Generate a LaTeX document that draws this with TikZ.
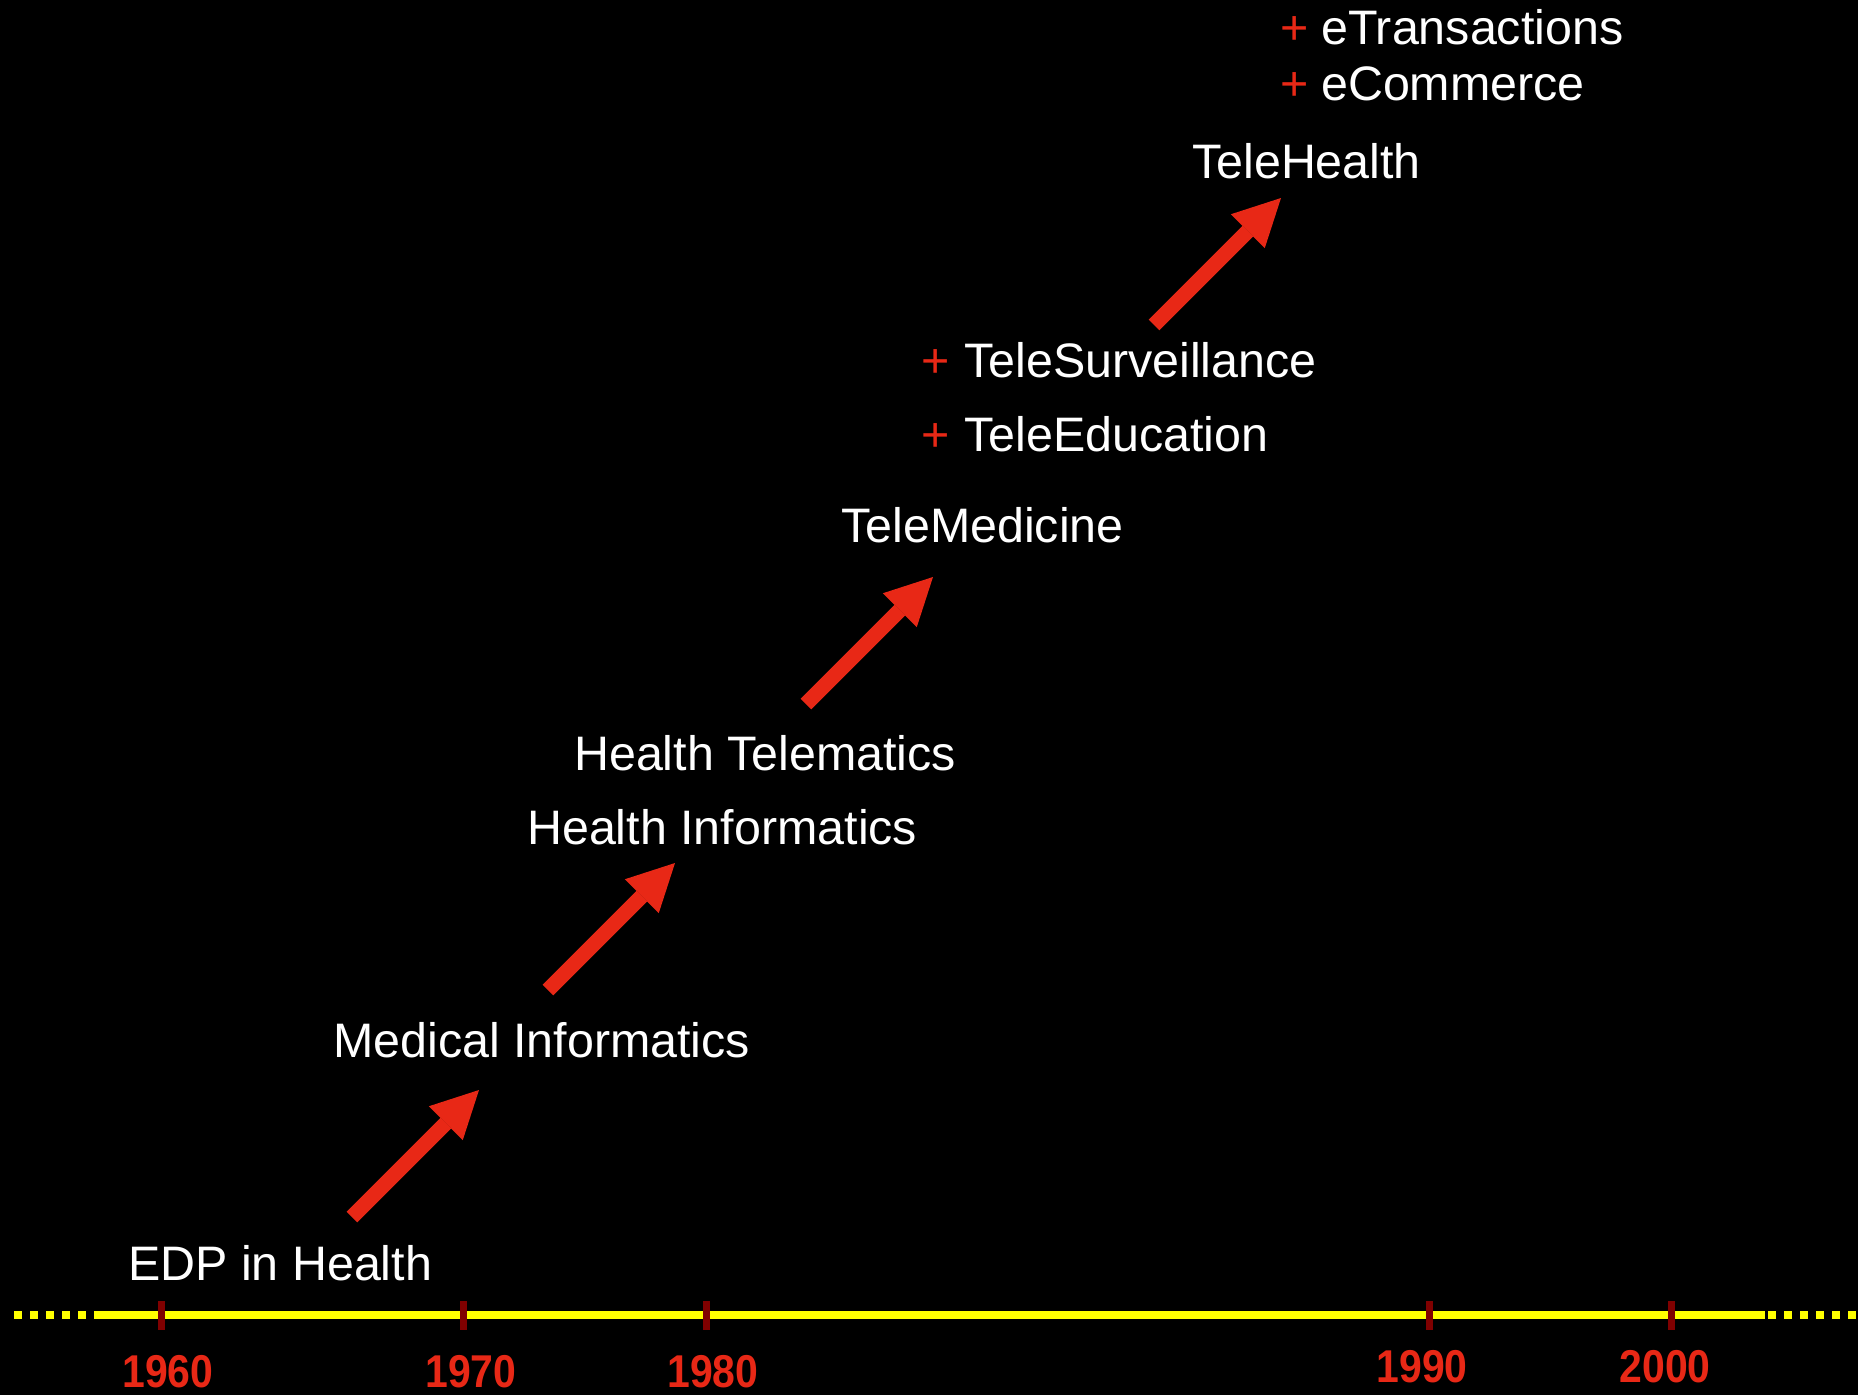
\documentclass[tikz,border=0pt]{standalone}
\usepackage{fontspec}
\setmainfont{Liberation Sans}
\usetikzlibrary{arrows.meta}
\definecolor{arrred}{RGB}{232,40,22}
\definecolor{tickred}{RGB}{128,0,0}
\definecolor{axisyellow}{RGB}{255,255,0}
\newcommand{\yr}[1]{\scalebox{0.89}[1]{#1}}
\begin{document}
\begin{tikzpicture}[x=1pt,y=-1pt,
  lbl/.style={text=white, font=\fontsize{48.4}{58}\selectfont, anchor=base west, inner sep=0pt},
  plussign/.style={text=arrred, font=\fontsize{48.4}{58}\selectfont, anchor=base, inner sep=0pt},
  yearlbl/.style={text=arrred, font=\fontsize{46}{54}\selectfont\bfseries, anchor=center, inner sep=0pt},
  bigarrow/.style={draw=arrred, line width=15pt, -{Triangle[length=47pt,width=48pt,line width=0pt]}},
  axisline/.style={draw=axisyellow, line width=8pt},
  axisdots/.style={draw=axisyellow, line width=8pt, dash pattern=on 8pt off 8pt},
  tickmark/.style={draw=tickred, line width=7pt}]
\fill[black] (0,0) rectangle (1858,1395);
\useasboundingbox (0,0) rectangle (1858,1395);

% axis
\coordinate (dl0) at (14,1315);
\coordinate (axL) at (101,1315);
\coordinate (axR) at (1765,1315);
\coordinate (dr1) at (1858,1315);
\draw[axisdots] (dl0) -- (axL);
\draw[axisline] (axL) -- (axR);
\draw[axisdots] ([xshift=3pt]axR) -- (dr1);

% ticks
\foreach \x/\n in {161/t1,463/t2,706/t3,1429/t4,1671/t5}{
  \coordinate (\n a) at (\x,1301);
  \coordinate (\n b) at (\x,1330);
  \draw[tickmark] (\n a) -- (\n b);
}

% years
\node[yearlbl] (y1960) at (168,1372) {\yr{1960}};
\node[yearlbl] (y1970) at (471,1372) {\yr{1970}};
\node[yearlbl] (y1980) at (713,1372) {\yr{1980}};
\node[yearlbl] (y1990) at (1422,1367) {\yr{1990}};
\node[yearlbl] (y2000) at (1665,1367) {\yr{2000}};

% labels
\node[lbl] (edp) at (128,1280) {EDP in Health};
\node[lbl] (medinf) at (333,1057) {Medical Informatics};
\node[lbl] (hinf) at (527,844) {Health Informatics};
\node[lbl] (htel) at (574,770) {Health Telematics};
\node[lbl] (telemed) at (841,542) {TeleMedicine};
\node[lbl] (telesurv) at (964,377) {TeleSurveillance};
\node[lbl] (teleedu) at (964,451) {TeleEducation};
\node[lbl] (telehealth) at (1192,178) {TeleHealth};
\node[lbl] (etrans) at (1321,44) {eTransactions};
\node[lbl] (ecomm) at (1321,100) {eCommerce};

% plus signs
\node[plussign] (p1) at (936,377) {+};
\node[plussign] (p2) at (936,451) {+};
\node[plussign] (p3) at (1295,44) {+};
\node[plussign] (p4) at (1295,100) {+};

% arrows
\coordinate (a1s) at (352,1217); \coordinate (a1e) at (479,1090);
\coordinate (a2s) at (548,990);  \coordinate (a2e) at (675,863);
\coordinate (a3s) at (806,704);  \coordinate (a3e) at (933,577);
\coordinate (a4s) at (1154,325); \coordinate (a4e) at (1281,198);
\draw[bigarrow] (a1s) -- (a1e);
\draw[bigarrow] (a2s) -- (a2e);
\draw[bigarrow] (a3s) -- (a3e);
\draw[bigarrow] (a4s) -- (a4e);
\end{tikzpicture}
\end{document}
